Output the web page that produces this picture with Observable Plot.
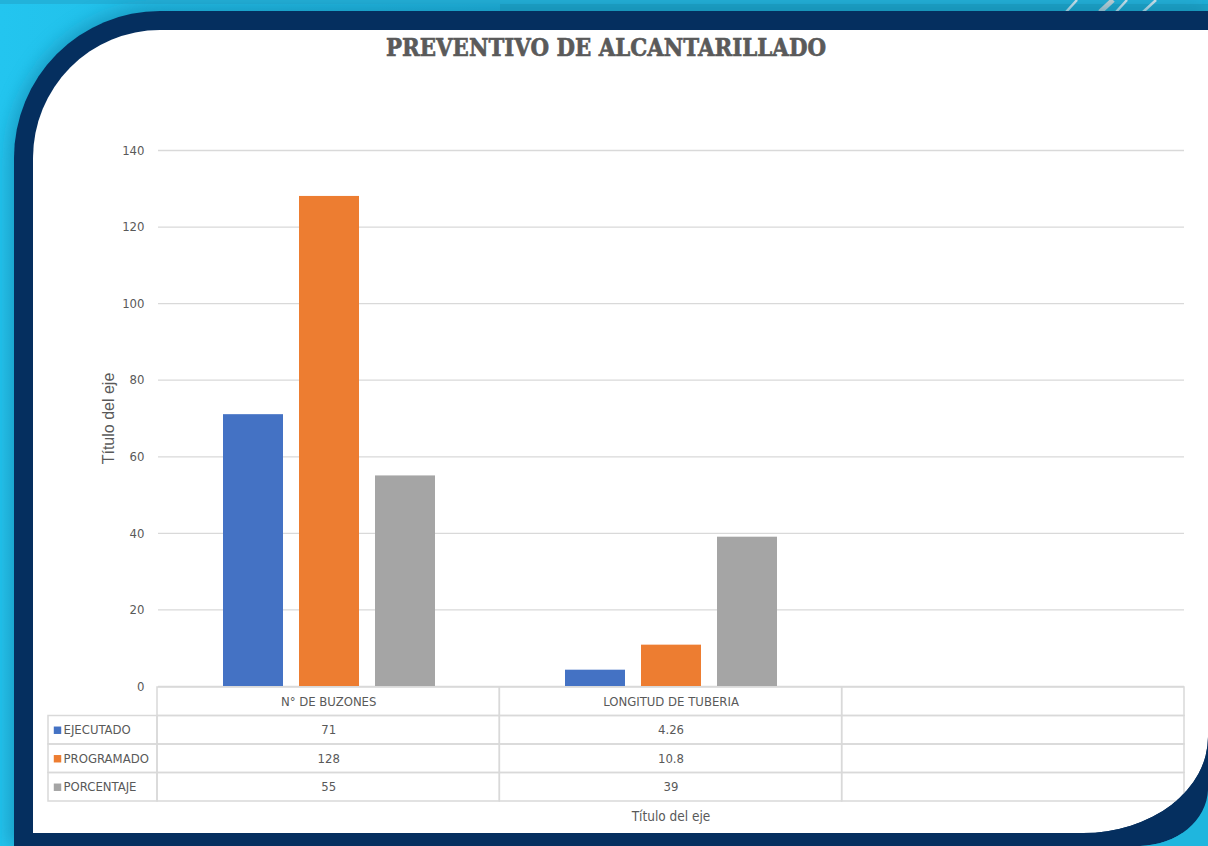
<!DOCTYPE html>
<html>
<head>
<meta charset="utf-8">
<script src="https://cdn.jsdelivr.net/npm/d3@7"></script>
<script src="https://cdn.jsdelivr.net/npm/@observablehq/plot@0.6"></script>
<style>
  html, body { margin: 0; padding: 0; width: 1208px; height: 846px; overflow: hidden; }
  body { position: relative; background: linear-gradient(90deg, #23c5ef 0%, #1fb3dc 40%, #1ca5c9 100%); font-family: "DejaVu Sans Condensed", "DejaVu Sans", sans-serif; }
  #bg { position: absolute; left: 0; top: 0; }
  #overlay { position: absolute; left: 0; top: 0; pointer-events: none; }
  #title { position: absolute; left: 0; top: 0; }
  #chart { position: absolute; left: 0; top: 100px; }
  #table { position: absolute; left: 0; top: 686px; }
</style>
</head>
<body>
<svg id="bg" width="1208" height="846">
  <defs>
    <filter id="sh" x="-10%" y="-10%" width="120%" height="120%">
      <feGaussianBlur stdDeviation="9"/>
    </filter>
  </defs>
  <rect x="0" y="0" width="1208" height="4" fill="#22b2da"/>
  <rect x="500" y="4" width="708" height="8" fill="#1ca4c8"/>
  <g stroke="#e8eef2" stroke-width="2.5">
    <line x1="1066" y1="12" x2="1077" y2="0"/>
    <line x1="1100" y1="12" x2="1113" y2="0" stroke-width="5" stroke="#d8d8d8"/>
    <line x1="1116" y1="12" x2="1127" y2="0"/>
    <line x1="1143" y1="12" x2="1156" y2="0"/>
  </g>
  <path d="M8,846 L8,160 A152,154 0 0 1 161,5 L1208,5 L1208,790 A70,58 0 0 1 1140,846 Z" fill="#137fa4" opacity="0.55" filter="url(#sh)"/>
  <path d="M14,846 L14,158 A146,147 0 0 1 160,11 L1208,11 L1208,790 A70,58 0 0 1 1140,846 Z" fill="#052f5f"/>
  <path d="M33,833 L33,158 A127,128 0 0 1 160,30 L1208,30 L1208,737 A125,96 0 0 1 1083,833 Z" fill="#ffffff"/>
</svg>
<svg id="title" width="1208" height="80"></svg>
<div id="chart"></div>
<div id="table"></div>
<svg id="overlay" width="1208" height="846">
  <path d="M1208,737 A125,96 0 0 1 1083,833 L1208,833 Z" fill="#052f5f"/>
  <path d="M1208,790 A70,58 0 0 1 1140,846 L1208,846 Z" fill="#1fb6de"/>
</svg>
<script>
// ---- data ----
const chartTitle = "PREVENTIVO DE ALCANTARILLADO";
const categories = ["N° DE BUZONES", "LONGITUD DE TUBERIA", ""];
const seriesNames = ["EJECUTADO", "PROGRAMADO", "PORCENTAJE"];
const ejecutado = [71, 4.26, null];
const programado = [128, 10.8, null];
const porcentaje = [55, 39, null];
const seriesColors = ["#4472c4", "#ed7d31", "#a5a5a5"];
const yTicks = [0, 20, 40, 60, 80, 100, 120, 140];
const yTitle = "Título del eje";
const xTitle = "Título del eje";

const seriesValues = [ejecutado, programado, porcentaje];
const tidy = categories.flatMap((c, i) =>
  seriesNames.map((s, j) => ({ category: c, series: s, value: seriesValues[j][i] }))
);

const narrow = "'DejaVu Sans Condensed', 'DejaVu Sans', sans-serif";
const textColor = "#595959";
const gridColor = "#d9d9d9";

// ---- title ----
d3.select("#title").append("text")
  .attr("x", 606).attr("y", 56)
  .attr("text-anchor", "middle")
  .attr("textLength", 440)
  .attr("lengthAdjust", "spacingAndGlyphs")
  .attr("font-family", "'DejaVu Serif', serif")
  .attr("font-weight", "900")
  .attr("font-size", 25)
  .attr("fill", "#5a5a5a")
  .attr("stroke", "#5a5a5a")
  .attr("stroke-width", 0.7)
  .text(chartTitle);

// ---- chart ----
const chart = Plot.plot({
  width: 1208,
  height: 594,
  marginLeft: 157,
  marginRight: 24,
  marginTop: 50,
  marginBottom: 8,
  style: { fontFamily: narrow, fontSize: "13px", color: textColor, background: "transparent" },
  fx: { domain: categories, padding: 0, axis: null },
  x: { domain: seriesNames, paddingInner: 0.2105, paddingOuter: 0.845, axis: null },
  y: { domain: [0, 140], axis: null },
  color: { domain: seriesNames, range: seriesColors },
  marks: [
    Plot.gridY(yTicks, { stroke: gridColor, strokeOpacity: 1, strokeWidth: 1.3 }),
    Plot.barY(tidy, { fx: "category", x: "series", y: "value", fill: "series" }),
    Plot.axisY(yTicks, { tickSize: 0, tickPadding: 14, label: null, fill: textColor, fontSize: 13 }),
    Plot.text([yTitle], {
      frameAnchor: "left", facetAnchor: "left", rotate: -90, dx: -50, textAnchor: "middle",
      fontFamily: "'Liberation Sans', Arial, sans-serif", fontSize: 16, fill: textColor,
      letterSpacing: "1.5px"
    })
  ]
});
document.getElementById("chart").appendChild(chart);

// ---- data table ----
const legendFrac = 109 / 342.33;
const cells = [];
categories.forEach((c, i) => cells.push({ x1: i, x2: i + 1, y1: 0, y2: 1, label: c }));
seriesNames.forEach((s, j) => {
  categories.forEach((c, i) => {
    const v = seriesValues[j][i];
    cells.push({ x1: i, x2: i + 1, y1: j + 1, y2: j + 2, label: v == null ? "" : String(v) });
  });
  cells.push({ x1: -legendFrac, x2: 0, y1: j + 1, y2: j + 2, label: "" });
});

const table = Plot.plot({
  width: 1208,
  height: 160,
  marginLeft: 48,
  marginRight: 24,
  marginTop: 1,
  marginBottom: 45,
  style: { fontFamily: narrow, fontSize: "13px", color: textColor, background: "transparent" },
  x: { domain: [-legendFrac, 3], axis: null },
  y: { domain: [0, 4], reverse: true, axis: null },
  marks: [
    Plot.rect(cells, { x1: "x1", x2: "x2", y1: "y1", y2: "y2", fill: "none", stroke: gridColor, strokeWidth: 1.5 }),
    Plot.text(cells, { x: d => (d.x1 + d.x2) / 2, y: d => (d.y1 + d.y2) / 2, text: "label", fill: textColor, fontSize: 13 }),
    Plot.dot(seriesNames, { x: () => -legendFrac, y: (d, j) => j + 1.5, symbol: "square", r: 4.2, dx: 9, fill: (d, j) => seriesColors[j] }),
    Plot.text(seriesNames, { x: () => -legendFrac, y: (d, j) => j + 1.5, dx: 15, textAnchor: "start", fill: textColor, fontSize: 13 }),
    Plot.text([xTitle], { x: () => 1.5, y: () => 4, dy: 15, fill: textColor, fontSize: 13.5 })
  ]
});
document.getElementById("table").appendChild(table);
</script>
</body>
</html>
